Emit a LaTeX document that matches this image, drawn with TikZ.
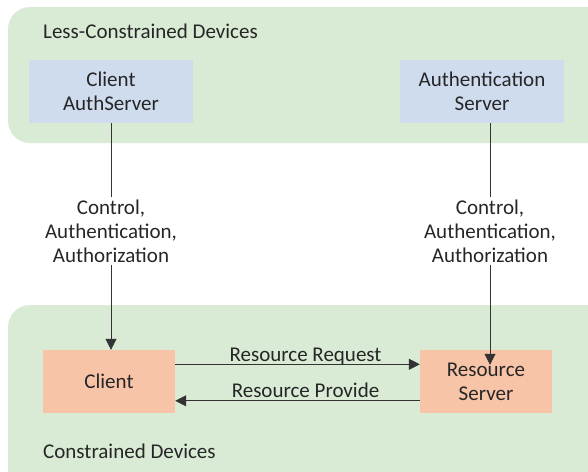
\documentclass[tikz,border=0pt]{standalone}
\usepackage{fontspec}
\setmainfont{Carlito}
\usetikzlibrary{arrows.meta}
\definecolor{grp}{HTML}{D9EBD5}
\definecolor{bluebox}{HTML}{CFDCEE}
\definecolor{salmon}{HTML}{F8C4A8}
\definecolor{txt}{HTML}{262626}
\definecolor{ln}{HTML}{333333}
\begin{document}
\begin{tikzpicture}[x=1pt,y=-1pt,
  every node/.style={font=\fontsize{21}{24}\selectfont, text=txt},
  group/.style={fill=grp, rounded corners=22pt},
  bbox/.style={fill=bluebox, minimum width=164pt, minimum height=63pt, align=center, inner sep=0pt},
  sbox/.style={fill=salmon, minimum width=132pt, minimum height=63pt, align=center, inner sep=0pt},
  lbl/.style={align=center, inner sep=2pt},
  conn/.style={draw=ln, line width=0.8pt},
  arr/.style={conn, -{Triangle[length=11pt,width=11pt]}}]
\useasboundingbox (0,0) rectangle (588,471);
\clip (0,0) rectangle (588,471);
\fill[group] (8,7) rectangle (610,143);
\fill[group] (8,305) rectangle (610,490);
\node[anchor=west, inner sep=0pt] (lc) at (43,31) {Less-Constrained Devices};
\node[anchor=west, inner sep=0pt] (cd) at (43,451) {Constrained Devices};
\node[bbox] (cas) at (111,91.5) {Client\\AuthServer};
\node[bbox] (as) at (482,91.5) {Authentication\\Server};
\node[sbox] (cl) at (109,381.5) {Client};
\node[sbox] (rs) at (486,381.5) {Resource\\Server};
\node[lbl] (l1) at (111,231) {Control,\\Authentication,\\Authorization};
\node[lbl] (l2) at (490,231) {Control,\\Authentication,\\Authorization};
\draw[conn] (cas.south -| l1) -- (l1);
\draw[arr] (l1) -- (cl.north -| l1);
\draw[conn] (as.south -| l2) -- (l2);
\draw[arr] (l2) -- ([yshift=-15pt]rs.north -| l2);
\draw[arr] ([yshift=-14.5pt]cl.north east) -- node[above=-4pt, xshift=8pt, inner sep=3pt] (rq) {Resource Request} ([yshift=-14.5pt]rs.north west);
\draw[arr] ([yshift=-51pt]rs.north west) -- node[above=0pt, xshift=8pt, inner sep=3pt] (rp) {Resource Provide} ([yshift=-51pt]cl.north east);
\end{tikzpicture}
\end{document}
